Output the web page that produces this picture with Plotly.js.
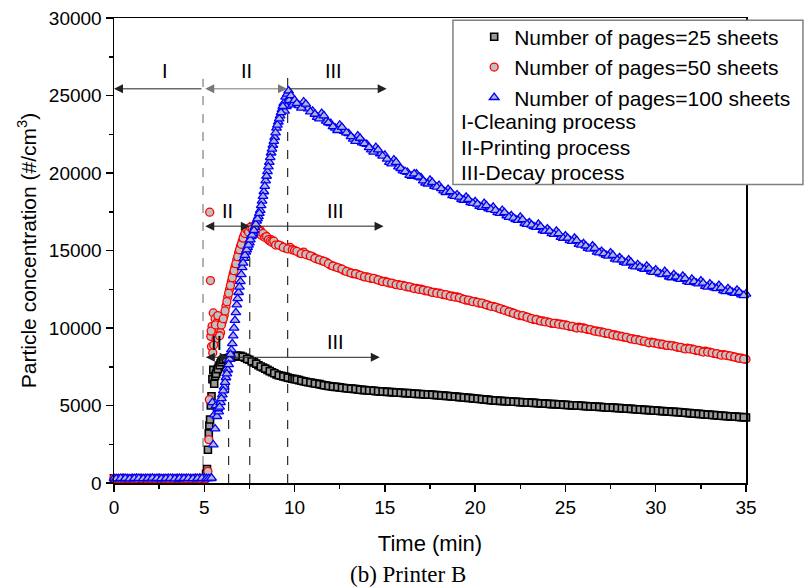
<!DOCTYPE html>
<html>
<head>
<meta charset="utf-8">
<script src="https://cdn.plot.ly/plotly-3.0.1.min.js"></script>
<style>html,body{margin:0;padding:0;background:#fff;}#chart{width:804px;height:588px;}</style>
</head>
<body>
<div id="chart"></div>
<script>
// ---------- data ----------
const baseT = [0,0.25,0.5,0.75,1,1.25,1.5,1.75,2,2.25,2.5,2.75,3,3.25,3.5,3.75,4,4.25,4.5,4.75,5];
const baseTb = [0.125,0.375,0.625,0.875,1.125,1.375,1.625,1.875,2.125,2.375,2.625,2.875,3.125,3.375,3.625,3.875,4.125,4.375,4.625,4.875,5.125,5.375];
const decayT = [10,10.25,10.5,10.75,11,11.25,11.5,11.75,12,12.25,12.5,12.75,13,13.25,13.5,13.75,
  14,14.25,14.5,14.75,15,15.25,15.5,15.75,16,16.25,16.5,16.75,17,17.25,17.5,17.75,
  18,18.25,18.5,18.75,19,19.25,19.5,19.75,20,20.25,20.5,20.75,21,21.25,21.5,21.75,
  22,22.25,22.5,22.75,23,23.25,23.5,23.75,24,24.25,24.5,24.75,25,25.25,25.5,25.75,
  26,26.25,26.5,26.75,27,27.25,27.5,27.75,28,28.25,28.5,28.75,29,29.25,29.5,29.75,
  30,30.25,30.5,30.75,31,31.25,31.5,31.75,32,32.25,32.5,32.75,33,33.25,33.5,33.75,
  34,34.25,34.5,34.75,35];
const decayTb = [10.125,10.375,10.625,10.875,11.125,11.375,11.625,11.875,12.125,12.375,12.625,12.875,
  13.125,13.375,13.625,13.875,14.125,14.375,14.625,14.875,15.125,15.375,15.625,15.875,
  16.125,16.375,16.625,16.875,17.125,17.375,17.625,17.875,18.125,18.375,18.625,18.875,
  19.125,19.375,19.625,19.875,20.125,20.375,20.625,20.875,21.125,21.375,21.625,21.875,
  22.125,22.375,22.625,22.875,23.125,23.375,23.625,23.875,24.125,24.375,24.625,24.875,
  25.125,25.375,25.625,25.875,26.125,26.375,26.625,26.875,27.125,27.375,27.625,27.875,
  28.125,28.375,28.625,28.875,29.125,29.375,29.625,29.875,30.125,30.375,30.625,30.875,
  31.125,31.375,31.625,31.875,32.125,32.375,32.625,32.875,33.125,33.375,33.625,33.875,
  34.125,34.375,34.625,34.875];

// 25 sheets
const base25 = [300,310,290,300,300,280,310,300,290,300,310,300,290,300,310,290,300,300,310,290,300];
const riseT25 = [5.1,5.15,5.2,5.25,5.28,5.32,5.36,5.4,5.45,5.5,5.55,5.6,5.7,5.8,5.9,6.0,6.15,6.3,6.45,6.6,6.75,6.9,7.0,7.25,7.5,7.75,8.0,8.25,8.5,8.75,9.0,9.25,9.5,9.75];
const riseC25 = [600,900,2150,3200,3700,4100,5000,5600,6700,7300,6400,6900,7200,7500,7700,7900,8000,8050,8100,8150,8200,8180,8200,8080,7950,7780,7600,7450,7300,7150,7000,6920,6850,6760];
const riseT25b = [5.65,5.75,5.85,5.95,6.05,6.2,6.4,6.5,6.7,6.85,7.125,7.375,7.625,7.875,8.125,8.375,8.625,8.875,9.125,9.375,9.625,9.875];
const riseC25b = [7050,7350,7600,7800,7950,8020,8080,8120,8180,8200,8150,8000,7850,7700,7520,7380,7220,7080,6950,6880,6800,6730];
const decay25 = [6700,6640,6560,6500, 6450,6400,6340,6290, 6240,6200,6170,6130, 6100,6070,6040,6010,
  5980,5960,5930,5910, 5890,5870,5850,5830, 5810,5800,5770,5750, 5740,5720,5700,5680,
  5660,5640,5610,5580, 5560,5530,5500,5480, 5450,5420,5390,5360, 5330,5310,5290,5270,
  5250,5240,5220,5200, 5190,5170,5150,5130, 5110,5090,5080,5060, 5040,5020,5000,4990,
  4970,4950,4930,4920, 4900,4880,4860,4850, 4830,4810,4790,4770, 4750,4730,4710,4690,
  4670,4650,4630,4610, 4590,4570,4540,4520, 4490,4470,4450,4420, 4400,4380,4350,4330,
  4310,4290,4270,4250, 4230];
const decay25b = [6680,6600,6530,6480, 6420,6380,6310,6260, 6220,6190,6150,6110, 6090,6060,6020,5990,
  5970,5950,5920,5900, 5880,5860,5840,5820, 5800,5790,5760,5740, 5730,5710,5690,5670,
  5650,5620,5600,5570, 5540,5520,5490,5460, 5440,5400,5380,5340, 5320,5300,5280,5260,
  5240,5230,5210,5190, 5180,5160,5140,5120, 5100,5090,5070,5050, 5030,5010,5000,4980,
  4960,4940,4930,4910, 4890,4870,4860,4840, 4820,4800,4780,4760, 4740,4720,4700,4680,
  4660,4640,4620,4600, 4580,4560,4530,4510, 4480,4460,4440,4410, 4390,4370,4340,4320,
  4300,4280,4260,4240];

// 50 sheets
const base50 = [300,290,310,300,290,300,310,300,300,290,310,300,300,290,310,300,290,300,310,300,300];
const riseT50 = [5.1,5.2,5.25,5.28,5.3,5.34,5.36,5.4,5.43,5.47,5.5,5.55,5.6,5.65,5.7,5.8,5.9,6.0,6.1,6.2,6.3,6.4,6.5,6.6,6.7,6.8,6.9,7.0,7.1,7.2,7.3,7.4,7.5,7.6,7.7,7.8,7.9,8.0,8.1,8.2,8.3,8.4,8.5,8.6,8.7,8.8,8.9,9.0,9.25,9.5,9.75];
const riseC50 = [300,750,2800,5380,17470,13060,9460,8800,10110,8400,10970,9800,10600,9300,10330,9900,9700,10400,10800,11400,12000,12500,13000,13500,13950,14400,14850,15250,15600,15950,16250,16300,16450,16300,16500,16350,16200,16150,16300,16050,15900,15950,15800,15650,15700,15500,15450,15400,15300,15150,15200];
const riseT50b = [5.38,5.52,5.62,5.75,5.85,5.95,6.05,6.15,6.25,6.35,6.45,6.55,6.65,6.75,6.85,6.95,7.05,7.15,7.25,7.35,7.45,7.55,7.65,7.75,7.85,7.95,8.05,8.15,8.25,8.35,8.45,8.55,8.65,8.75,8.85,8.95,9.125,9.375,9.625,9.875];
const riseC50b = [9800,8900,10200,10800,9500,10200,10600,11100,11700,12250,12750,13250,13700,14150,14600,15050,15400,15800,16100,16350,16200,16500,16400,16250,16450,16100,16250,16000,16100,15850,15900,15700,15600,15550,15600,15350,15350,15200,15100,15050];
const decay50 = [15000,14850,14900,14700, 14600,14450,14350,14250, 14050,13950,13850,13700, 13600,13500,13450,13350,
  13300,13200,13150,13050, 13000,12900,12850,12800, 12750,12650,12600,12550, 12500,12400,12350,12300,
  12250,12150,12100,12050, 12000,11900,11800,11750, 11700,11600,11550,11450, 11400,11300,11200,11100,
  11000,10900,10800,10750, 10650,10550,10500,10450, 10400,10300,10300,10250, 10200,10100,10050,10050,
  10000,9900,9850,9800, 9750,9650,9600,9550, 9480,9400,9350,9300, 9250,9150,9100,9080,
  9020,8950,8900,8880, 8850,8750,8700,8700, 8650,8550,8500,8500, 8450,8350,8300,8280,
  8220,8150,8080,8050, 7980];
const decay50b = [14950,14800,14750,14650, 14500,14400,14300,14150, 14000,13900,13800,13650, 13550,13500,13400,13300,
  13250,13200,13100,13000, 12950,12900,12800,12750, 12700,12650,12550,12500, 12450,12400,12300,12250,
  12200,12150,12050,12000, 11950,11850,11800,11700, 11650,11600,11500,11400, 11350,11250,11150,11050,
  10950,10850,10800,10700, 10600,10550,10450,10400, 10350,10300,10250,10200, 10150,10100,10000,10000,
  9950,9900,9800,9750, 9700,9650,9550,9500, 9450,9400,9300,9250, 9200,9150,9050,9050,
  8980,8950,8880,8850, 8800,8750,8650,8650, 8600,8550,8450,8450, 8400,8350,8250,8250,
  8200,8130,8050,8000];

// 100 sheets
const base100 = [300,280,310,290,300,320,290,300,310,280,300,290,310,300,280,300,310,290,300,320,300];
const base100b = [290,310,300,280,300,310,290,300,320,300,290,300,310,280,300,300,310,290,300,310,300,300];
const riseT100 = [5.25,5.4,5.45,5.5,5.55,5.6,5.65,5.7,5.8,5.9,6.0,6.1,6.2,6.3,6.4,6.5,6.6,6.7,6.8,6.9,7.0,7.1,7.2,7.3,7.4,7.5,7.6,7.7,7.8,7.9,8.0,8.1,8.2,8.3,8.4,8.5,8.6,8.7,8.8,8.9,9.0,9.1,9.2,9.3,9.4,9.45,9.5,9.55,9.6,9.67,9.75,9.85];
const riseC100 = [290,320,5200,2470,4400,3500,5000,4300,4600,5200,5700,6200,6800,7300,8000,8600,9500,10500,11500,12300,13000,13900,14500,14900,15200,15500,15900,16100,16500,16900,17200,17600,18200,18800,19500,20100,20700,21300,21800,22300,22900,23300,23700,24100,24500,24000,24900,24300,25100,25300,24900,24600];
const riseT100b = [5.75,5.85,5.95,6.05,6.15,6.25,6.35,6.45,6.55,6.65,6.75,6.85,6.95,7.05,7.15,7.25,7.35,7.45,7.55,7.65,7.75,7.85,7.95,8.05,8.15,8.25,8.35,8.45,8.55,8.65,8.75,8.85,8.95,9.05,9.15,9.25,9.35,9.7,9.8,9.9];
const riseC100b = [4800,4900,5450,5950,6500,7050,7650,8300,9000,10000,11000,11900,12650,13450,14200,14700,15050,15350,15700,16000,16300,16700,17050,17400,17900,18500,19150,19800,20400,21000,21550,22050,22600,23100,23500,23900,24300,24700,25000,24400];
const decay100 = [24700,24350,24600,24150, 24000,23600,23850,23350, 23200,22900,23100,22700, 22550,22200,22400,21950,
  21850,21500,21650,21250, 21150,20700,20850,20400, 20150,20050,19800,19950, 19700,19350,19550,19150,
  19200,18850,18950,18550, 18600,18300,18450,18100, 18150,17850,18050,17700, 17800,17450,17600,17250,
  17250,17000,17150,16750, 16800,16550,16700,16300, 16400,16100,16250,15850, 15950,15650,15800,15400,
  15450,15150,15300,14900, 14950,14700,14850,14450, 14550,14250,14400,14000, 14100,13850,14000,13650,
  13750,13500,13650,13300, 13450,13200,13350,13000, 13150,12900,13050,12700, 12850,12600,12750,12400,
  12550,12300,12450,12150, 12200];
const decay100b = [24500,24200,24450,23950, 23800,23500,23700,23250, 23000,22750,22950,22600, 22350,22050,22250,21900,
  21650,21350,21500,21100, 20900,20600,20700,20300, 20100,19850,19950,19750, 19500,19300,19400,19100,
  19000,18750,18800,18500, 18450,18250,18300,18050, 18000,17800,17900,17650, 17600,17400,17450,17150,
  17100,16950,17000,16700, 16650,16500,16550,16250, 16250,16050,16100,15800, 15800,15600,15650,15350,
  15300,15100,15150,14850, 14800,14650,14700,14400, 14400,14200,14250,13950, 13950,13800,13850,13600,
  13600,13450,13500,13250, 13300,13150,13200,12950, 13000,12850,12900,12650, 12700,12550,12600,12350,
  12400,12250,12300,12100];

const seriesNames = ['Number of pages=25 sheets','Number of pages=50 sheets','Number of pages=100 sheets'];
const processNotes = ['I-Cleaning process','II-Printing process','III-Decay process'];

// phase boundary lines (x, top)
const phaseX = [4.93, 6.35, 7.52, 9.62];
const phaseTop = [26080, 8800, 17320, 26150];

// ---------- traces ----------
const FONT = 'Liberation Sans, Arial, Helvetica, sans-serif';
const traces = [
  {x: baseT.concat(riseT25, riseT25b, decayT, decayTb), y: base25.concat(riseC25, riseC25b, decay25, decay25b),
   name: seriesNames[0], type:'scatter', mode:'markers', cliponaxis:false,
   marker:{symbol:'square', size:7, color:'#9a9a9a', line:{color:'#000', width:1.6}}},
  {x: baseT.concat(riseT50, riseT50b, decayT, decayTb), y: base50.concat(riseC50, riseC50b, decay50, decay50b),
   name: seriesNames[1], type:'scatter', mode:'markers', cliponaxis:false,
   marker:{symbol:'circle', size:8, color:'#c0c0c0', line:{color:'#ff0000', width:1.3}}},
  {x: baseT.concat(baseTb, riseT100, riseT100b, decayT, decayTb), y: base100.concat(base100b, riseC100, riseC100b, decay100, decay100b),
   name: seriesNames[2], type:'scatter', mode:'markers', cliponaxis:false,
   marker:{symbol:'triangle-up', size:8.5, color:'#b4b4cc', line:{color:'#0000ff', width:1.3}}}
];

// ---------- shapes ----------
const shapes = phaseX.map((px, i) => ({
  type:'line', xref:'x', yref:'y', x0:px, x1:px, y0:0, y1:phaseTop[i],
  line:{color: i === 0 ? '#666' : '#000', width:1, dash:'dash'}, layer:'below'
}));
// legend frame
shapes.push({type:'rect', xref:'paper', yref:'paper', x0:0.5363, x1:1.0901, y0:0.6418, y1:0.9953,
  fillcolor:'#fff', line:{color:'#808080', width:1.5}, layer:'above'});

// ---------- annotations ----------
function arrow(x0, x1, y, both, col) {
  return {xref:'x', yref:'y', axref:'x', ayref:'y', x:x1, y:y, ax:x0, ay:y, text:'',
    showarrow:true, arrowhead:2, arrowsize:1.8, arrowwidth:1, arrowcolor:col || '#222',
    arrowside: both ? 'end+start' : 'end', startarrowhead:2, startarrowsize:1.8, standoff:0, startstandoff:0};
}
function label(t, x, y) {
  return {xref:'x', yref:'y', x:x, y:y, text:t, showarrow:false, font:{family:FONT, size:20, color:'#000'},
    xanchor:'center', yanchor:'middle'};
}
const annotations = [
  arrow(4.93, 0, 25430, false),
  arrow(4.97, 9.58, 25430, true, '#777'),
  arrow(9.62, 15.1, 25430, false),
  label('I', 2.85, 26550), label('II', 7.33, 26550), label('III', 12.16, 26550),
  arrow(4.97, 7.52, 16570, true),
  arrow(7.52, 14.93, 16570, false),
  label('II', 6.26, 17560), label('III', 12.26, 17560),
  arrow(5.0, 6.35, 8110, true),
  arrow(6.35, 14.72, 8110, false),
  label('II', 5.7, 9060), label('III', 12.26, 9100)
];
const noteY = [0.7773, 0.7214, 0.6676];
processNotes.forEach((t, i) => annotations.push({xref:'paper', yref:'paper', x:0.5462, y:noteY[i], text:t,
  showarrow:false, xanchor:'left', yanchor:'middle', font:{family:FONT, size:21, color:'#000'}}));
annotations.push({xref:'paper', yref:'paper', x:0.4656, y:-0.197, text:'(b) Printer B', showarrow:false,
  xanchor:'center', yanchor:'middle', font:{family:'Liberation Serif, Times New Roman, serif', size:23, color:'#000'}});

// ---------- layout ----------
const axisCommon = {
  ticks:'outside', ticklen:7, tickwidth:1.5, tickcolor:'#000',
  showline:true, linecolor:'#000', linewidth:1.5, mirror:true, automargin:false,
  showgrid:false, zeroline:false, tickfont:{family:FONT, size:19, color:'#000'}
};
const layout = {
  width:804, height:588,
  margin:{l:114, r:58, t:18, b:105, autoexpand:false},
  paper_bgcolor:'#fff', plot_bgcolor:'#fff',
  font:{family:FONT, color:'#000', size:19},
  showlegend:true,
  xaxis: Object.assign({}, axisCommon, {
    range:[0,35], tick0:0, dtick:5,
    minor:{dtick:2.5, ticks:'outside', ticklen:4, tickwidth:1.5, tickcolor:'#000', showgrid:false},
    title:{text:'Time (min)', font:{family:FONT, size:22, color:'#000'}, standoff:18}
  }),
  yaxis: Object.assign({}, axisCommon, {
    range:[0,30000], tick0:0, dtick:5000, tickformat:'d',
    minor:{dtick:2500, ticks:'outside', ticklen:4, tickwidth:1.5, tickcolor:'#000', showgrid:false},
    title:{text:'Particle concentration (#/cm<sup>3</sup>)', font:{family:FONT, size:21, color:'#000'}, standoff:6}
  }),
  legend:{x:0.5699, y:1.003, xanchor:'left', yanchor:'top', bgcolor:'rgba(0,0,0,0)', borderwidth:0,
    font:{family:FONT, size:21, color:'#000'}, tracegroupgap:0},
  shapes: shapes,
  annotations: annotations
};

Plotly.newPlot('chart', traces, layout, {displayModeBar:false, staticPlot:true});
</script>
</body>
</html>
